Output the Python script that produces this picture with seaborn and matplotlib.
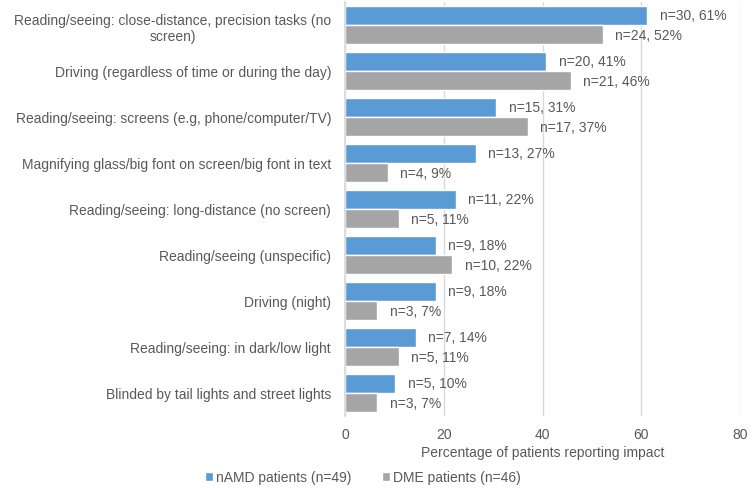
import matplotlib
matplotlib.use("Agg")
import matplotlib.pyplot as plt
import seaborn as sns
import pandas as pd
import numpy as np

categories = [
    "Reading/seeing: close-distance, precision tasks (no\nscreen)",
    "Driving (regardless of time or during the day)",
    "Reading/seeing: screens (e.g, phone/computer/TV)",
    "Magnifying glass/big font on screen/big font in text",
    "Reading/seeing: long-distance (no screen)",
    "Reading/seeing (unspecific)",
    "Driving (night)",
    "Reading/seeing: in dark/low light",
    "Blinded by tail lights and street lights",
]
series_names = ["nAMD patients (n=49)", "DME patients (n=46)"]
namd_n = [30, 20, 15, 13, 11, 9, 9, 7, 5]
namd_pct = [61.2, 40.8, 30.6, 26.5, 22.4, 18.4, 18.4, 14.3, 10.2]
namd_lbl = [61, 41, 31, 27, 22, 18, 18, 14, 10]
dme_n = [24, 21, 17, 4, 5, 10, 3, 5, 3]
dme_pct = [52.2, 45.7, 37.0, 8.7, 10.9, 21.7, 6.5, 10.9, 6.5]
dme_lbl = [52, 46, 37, 9, 11, 22, 7, 11, 7]
x_ticks = [0, 20, 40, 60, 80]
x_label = "Percentage of patients reporting impact"

colors = ["#5B9BD5", "#A5A5A5"]
text_color = "#595959"
fs = 10

sns.set_theme(style="white")
plt.rcParams["font.family"] = ["Liberation Sans", "DejaVu Sans"]

df = pd.DataFrame({
    "category": categories * 2,
    "series": [series_names[0]] * len(categories) + [series_names[1]] * len(categories),
    "pct": namd_pct + dme_pct,
})

fig = plt.figure(figsize=(7.53, 4.89), dpi=100)
ax = fig.add_axes([345 / 753, 1 - 417 / 489, (740 - 345) / 753, (417 - 3) / 489])

sns.barplot(data=df, y="category", x="pct", hue="series", orient="h",
            palette=colors, width=0.83, ax=ax, legend=True, saturation=1)

ax.set_xlim(0, 80)
ax.set_xticks(x_ticks)
ax.set_xticklabels([str(t) for t in x_ticks], fontsize=fs, color=text_color)
ax.set_xlabel(x_label, fontsize=fs, color=text_color, labelpad=3)
ax.set_ylabel("")
ax.tick_params(axis="y", labelsize=fs, labelcolor=text_color, length=0, pad=10)
ax.tick_params(axis="x", length=0, pad=8)
for t in ax.get_yticklabels():
    t.set_multialignment("center")
ax.grid(axis="x", color="#D9D9D9", linewidth=1)
ax.set_axisbelow(True)
for s in ["top", "right", "bottom"]:
    ax.spines[s].set_visible(False)
ax.spines["left"].set_color("#D9D9D9")

ncat = len(categories)
ax.set_yticks(np.arange(-0.5, ncat, 1), minor=True)
ax.tick_params(axis="y", which="minor", length=4, color="#D9D9D9", direction="out")

for ti, cont in enumerate(ax.containers):
    ns = namd_n if ti == 0 else dme_n
    ls = namd_lbl if ti == 0 else dme_lbl
    labels = [f"n={n}, {l}%" for n, l in zip(ns, ls)]
    ax.bar_label(cont, labels=labels, padding=9, fontsize=fs, color=text_color)

handles, labels = ax.get_legend_handles_labels()
ax.get_legend().remove()
leg = fig.legend(handles, labels, loc="center left",
                 bbox_to_anchor=(198 / 753, 1 - 478 / 489), ncol=2,
                 frameon=False, fontsize=fs, handlelength=0.6, handleheight=0.6,
                 handletextpad=0.2, columnspacing=2.2, borderpad=0)
for t in leg.get_texts():
    t.set_color(text_color)

fig.savefig("out.png", dpi=100)
